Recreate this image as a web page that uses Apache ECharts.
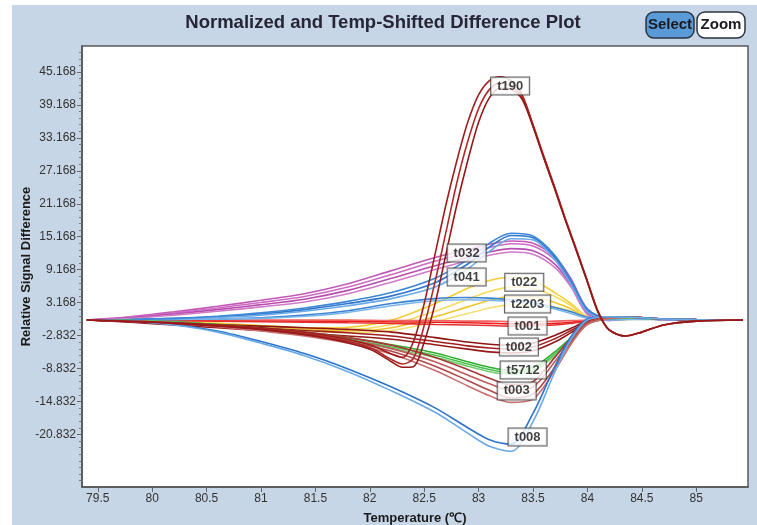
<!DOCTYPE html>
<html><head><meta charset="utf-8">
<script src="https://cdn.jsdelivr.net/npm/echarts@6/dist/echarts.min.js"></script>
<style>
html,body{margin:0;padding:0;background:#fff;}
#panel{position:absolute;left:12px;top:5px;width:745px;height:520px;background:#c6d6e6;}
#chart{position:absolute;left:0;top:0;width:757px;height:525px;}
</style></head><body>
<div id="panel"></div><div id="chart"></div>
<script>
// ---- axis ticks ----
const xTicks = [79.5, 80, 80.5, 81, 81.5, 82, 82.5, 83, 83.5, 84, 84.5, 85];
const yTicks = [-20.832, -14.832, -8.832, -2.832, 3.168, 9.168, 15.168, 21.168, 27.168, 33.168, 39.168, 45.168];

// ---- temperature grids ----
const tGrid = [79.4, 79.8, 80.2, 80.6, 81.0, 81.4, 81.8, 82.2, 82.6, 82.9, 83.1, 83.3, 83.5, 83.7, 83.85, 84.0, 84.2, 84.4, 84.7, 85.0, 85.43];
const tGridFine = [79.4, 80.2, 81.0, 81.6, 82.0, 82.2, 82.3, 82.4, 82.5, 82.6, 82.7, 82.8, 82.9, 83.0, 83.1, 83.2, 83.3, 83.4, 83.5, 83.6, 83.7, 83.8, 83.9, 84.0, 84.1, 84.2, 84.35, 84.5, 84.7, 85.0, 85.43];

// ---- t032 (magenta) ----
const t032a = [0, 0.6, 1.5, 2.5, 3.6, 4.8, 6.6, 9.0, 11.4, 12.8, 13.8, 14.4, 14.0, 11.5, 7.5, 2.0, 0.2, 0.3, 0.1, 0, 0];
const t032b = [0, 0.5, 1.3, 2.2, 3.2, 4.3, 6.0, 8.3, 10.7, 12.2, 13.2, 13.9, 13.5, 11.0, 7.0, 1.6, 0.1, 0.3, 0.1, 0, 0];
const t032c = [0, 0.4, 1.1, 1.9, 2.8, 3.8, 5.4, 7.6, 9.9, 11.4, 12.4, 13.0, 12.6, 10.2, 6.4, 1.3, 0, 0.2, 0.1, 0, 0];
const t032d = [0, 0.3, 0.9, 1.6, 2.4, 3.3, 4.8, 6.9, 9.2, 10.8, 11.8, 12.4, 12.0, 9.6, 6.0, 1.0, -0.1, 0.2, 0.1, 0, 0];
// ---- t041 (blue, upper) ----
const t041a = [0, 0.1, 0.3, 0.6, 1.1, 1.9, 3.0, 4.4, 6.8, 10.2, 13.3, 15.4, 15.0, 11.5, 7.0, 1.8, 0.3, 0.4, 0.2, 0.1, 0];
const t041b = [0, 0.1, 0.2, 0.5, 0.9, 1.6, 2.6, 3.9, 6.0, 9.3, 12.5, 14.8, 14.6, 11.0, 6.5, 1.5, 0.2, 0.4, 0.2, 0.1, 0];
const t041c = [0, 0.1, 0.3, 0.7, 1.3, 2.2, 3.4, 5.0, 7.6, 11.0, 14.0, 15.8, 15.3, 11.8, 7.2, 2.0, 0.3, 0.5, 0.2, 0.1, 0];
// ---- t2203 (blue, flat) ----
const t2203a = [0, 0, 0.1, 0.2, 0.4, 0.9, 1.7, 3.0, 3.9, 4.1, 4.0, 3.7, 3.2, 2.3, 1.5, 0.5, 0.1, 0.2, 0.1, 0, 0];
const t2203b = [0, 0, 0.1, 0.2, 0.3, 0.7, 1.4, 2.6, 3.5, 3.7, 3.6, 3.4, 2.9, 2.0, 1.2, 0.3, 0, 0.1, 0.1, 0, 0];
// ---- t022 (yellow) ----
const t022a = [0, -0.1, -0.3, -0.6, -1.0, -1.4, -1.3, 0.0, 3.0, 5.8, 7.2, 7.8, 7.2, 5.0, 3.0, 0.6, 0, 0.2, 0.1, 0, 0];
const t022b = [0, -0.1, -0.3, -0.6, -1.1, -1.6, -1.7, -0.8, 1.6, 3.8, 5.2, 6.0, 5.8, 4.3, 2.6, 0.5, 0, 0.2, 0.1, 0, 0];
const t022c = [0, -0.1, -0.4, -0.7, -1.2, -1.7, -2.0, -1.4, 0.6, 2.4, 3.6, 4.3, 4.2, 3.2, 2.0, 0.4, 0, 0.2, 0.1, 0, 0];
const t022d = [0, -0.1, -0.4, -0.8, -1.3, -1.9, -2.3, -1.9, -0.3, 1.2, 2.2, 2.8, 2.9, 2.4, 1.6, 0.3, 0, 0.1, 0.1, 0, 0];
// ---- t001 (red) ----
const t001a = [0, 0, 0, -0.1, -0.1, -0.2, -0.2, -0.3, -0.4, -0.5, -0.6, -0.7, -0.7, -0.6, -0.4, -0.1, 0.2, 0.3, 0.2, 0.1, 0];
const t001b = [0, 0, 0, 0, 0, 0, 0, -0.1, -0.1, -0.2, -0.2, -0.3, -0.3, -0.2, -0.1, 0, 0.3, 0.4, 0.2, 0.1, 0];
const t001c = [0, 0, -0.1, -0.2, -0.3, -0.4, -0.5, -0.6, -0.8, -0.9, -1.0, -1.1, -1.0, -0.9, -0.6, -0.2, 0.2, 0.3, 0.2, 0.1, 0];
// ---- t002 (dark red) ----
const t002a = [0, -0.2, -0.5, -0.8, -1.1, -1.4, -1.7, -2.2, -3.2, -4.0, -4.4, -4.6, -4.2, -2.8, -1.5, -0.2, 0.4, 0.5, 0.2, 0.1, 0];
const t002b = [0, -0.3, -0.7, -1.1, -1.5, -1.9, -2.3, -2.9, -3.9, -4.7, -5.1, -5.3, -4.9, -3.4, -1.9, -0.4, 0.4, 0.5, 0.2, 0.1, 0];
const t002c = [0, -0.4, -0.9, -1.4, -1.9, -2.4, -2.9, -3.5, -4.5, -5.3, -5.8, -6.0, -5.6, -4.0, -2.3, -0.6, 0.3, 0.5, 0.2, 0.1, 0];
// ---- t5712 (green) ----
const t5712a = [0, -0.1, -0.3, -0.8, -1.4, -2.2, -3.2, -4.5, -6.0, -7.6, -8.6, -9.2, -8.6, -5.8, -3.2, -0.5, 0.4, 0.4, 0.2, 0.1, 0];
const t5712b = [0, -0.1, -0.4, -0.9, -1.6, -2.5, -3.5, -4.9, -6.4, -8.0, -9.0, -9.6, -9.0, -6.2, -3.5, -0.7, 0.3, 0.4, 0.2, 0.1, 0];
const t5712c = [0, -0.1, -0.4, -1.0, -1.7, -2.6, -3.7, -5.2, -6.8, -8.4, -9.4, -9.9, -9.3, -6.5, -3.7, -0.8, 0.3, 0.4, 0.2, 0.1, 0];
// ---- t003 (rosy brown) ----
const t003a = [0, -0.2, -0.5, -0.9, -1.5, -2.2, -3.2, -4.6, -6.8, -9.0, -10.6, -11.8, -11.2, -6.8, -3.2, -0.4, 0.5, 0.5, 0.2, 0.1, 0];
const t003b = [0, -0.2, -0.5, -1.0, -1.7, -2.5, -3.6, -5.2, -7.6, -10.0, -11.6, -12.8, -12.2, -7.6, -3.6, -0.6, 0.4, 0.5, 0.2, 0.1, 0];
const t003c = [0, -0.2, -0.6, -1.1, -1.8, -2.7, -3.9, -5.7, -8.4, -11.0, -12.8, -14.2, -13.5, -8.6, -4.0, -0.7, 0.4, 0.5, 0.2, 0.1, 0];
const t003d = [0, -0.2, -0.6, -1.2, -2.0, -2.9, -4.2, -6.2, -9.2, -12.0, -13.8, -15.0, -14.4, -9.2, -4.4, -0.8, 0.3, 0.5, 0.2, 0.1, 0];
// ---- t008 (blue, lower) ----
const t008a = [0, -0.2, -0.8, -2.0, -3.9, -6.1, -8.9, -12.2, -16.0, -19.6, -21.8, -22.6, -17.0, -8.5, -3.0, 0.2, 0.6, 0.5, 0.2, 0.1, 0];
const t008b = [0, -0.2, -0.9, -2.2, -4.2, -6.5, -9.4, -12.9, -16.8, -20.6, -23.0, -23.9, -18.5, -9.5, -3.5, 0, 0.6, 0.5, 0.2, 0.1, 0];
// ---- t190 (dark red peak, fine grid) ----
const t190a = [0, -0.5, -1.4, -2.8, -4.5, -6.2, -6.8, -4.0, 3.0, 12, 21, 29, 36, 41, 43.6, 44.3, 43.5, 41, 35.6, 29.8, 24.2, 18.3, 12.8, 7.1, 1.5, -1.8, -2.9, -2.2, -0.9, -0.2, 0];
const t190b = [0, -0.6, -1.6, -3.1, -5.0, -7.2, -8.0, -7.0, -1.0, 7, 16, 25, 32.5, 38.5, 42, 43.2, 42.6, 40.6, 35.4, 29.6, 24, 18.2, 12.7, 7.0, 1.4, -1.8, -2.9, -2.2, -0.9, -0.2, 0];
const t190c = [0, -0.6, -1.7, -3.3, -5.3, -7.6, -8.6, -8.5, -4.0, 3, 12, 21, 29, 36, 40.5, 42.2, 42.0, 40.2, 35.2, 29.4, 23.8, 18.0, 12.5, 6.9, 1.3, -1.8, -2.9, -2.2, -0.9, -0.2, 0];

// ---- curve labels ----
const labelNames = ['t190', 't032', 't041', 't022', 't2203', 't001', 't002', 't5712', 't003', 't008'];
const labelT = [83.29, 82.89, 82.89, 83.42, 83.45, 83.45, 83.37, 83.41, 83.35, 83.45];
const labelV = [42.6, 12.2, 7.85, 6.9, 2.9, -1.1, -4.9, -9.1, -12.9, -21.3];

// ---- build options ----
const families = [
  {grid: tGrid, curves: [t022a, t022b, t022c, t022d], colors: ['#f2cf35', '#f7db5a', '#efc52c', '#f6e070']},
  {grid: tGrid, curves: [t001a, t001b, t001c], colors: ['#ee1c1c', '#f06262', '#e63030']},
  {grid: tGrid, curves: [t032a, t032b, t032c, t032d], colors: ['#c45ab8', '#cc6cc2', '#b84fae', '#d07ac8']},
  {grid: tGrid, curves: [t2203a, t2203b], colors: ['#3a82d2', '#7ab6ea']},
  {grid: tGrid, curves: [t041a, t041b, t041c], colors: ['#2f78cc', '#6aaae6', '#3d86d6']},
  {grid: tGrid, curves: [t002a, t002b, t002c], colors: ['#8e1414', '#a02020', '#961a1a']},
  {grid: tGrid, curves: [t5712a, t5712b, t5712c], colors: ['#2fae2f', '#4cc04c', '#72cc72']},
  {grid: tGrid, curves: [t003a, t003b, t003c, t003d], colors: ['#a83838', '#c05a5a', '#b04848', '#c87070']},
  {grid: tGrid, curves: [t008a, t008b], colors: ['#2e74c8', '#6aaae6']},
  {grid: tGridFine, curves: [t190a, t190b, t190c], colors: ['#a01e1e', '#b02a2a', '#961818']}
];

const series = [];
families.forEach(f => {
  f.curves.forEach((c, i) => {
    series.push({
      type: 'line', smooth: 0.3, symbol: 'none', silent: true,
      lineStyle: {color: f.colors[i % f.colors.length], width: 1.6},
      data: f.grid.map((t, k) => [t, c[k]]), z: 2
    });
  });
});
series.push({
  type: 'scatter', symbolSize: 1, itemStyle: {color: 'rgba(0,0,0,0)'}, z: 10, silent: true,
  data: labelNames.map((n, i) => ({name: n, value: [labelT[i], labelV[i]]})),
  label: {
    show: true, position: 'inside', formatter: p => p.name,
    backgroundColor: '#fff', borderColor: '#333', borderWidth: 1,
    padding: [2, 6, 1, 6], color: '#111', fontWeight: 'bold', fontSize: 13,
    fontFamily: '"Liberation Sans", Arial, sans-serif', lineHeight: 14
  }
});

const yMinor = [];
for (let i = 0; i < yTicks.length - 1; i++) {
  const step = (yTicks[i + 1] - yTicks[i]) / 5;
  for (let k = 1; k < 5; k++) yMinor.push(yTicks[i] + k * step);
}
[1, 2, 3, 4, 5, 6, 7].forEach(k => yMinor.push(yTicks[0] - k * 1.2));
[1, 2, 3].forEach(k => yMinor.push(yTicks[yTicks.length - 1] + k * 1.2));

const chart = echarts.init(document.getElementById('chart'), null, {renderer: 'canvas'});
chart.setOption({
  animation: false,
  backgroundColor: 'transparent',
  grid: {left: 82, right: 9, top: 46, bottom: 38, outerBoundsMode: 'none', containLabel: false, show: true, backgroundColor: '#ffffff', borderColor: '#5a5a5a', borderWidth: 1.5},
  xAxis: {
    type: 'value', min: 79.355, max: 85.476,
    axisLine: {show: true, onZero: false, lineStyle: {color: '#555', width: 1.5}},
    axisTick: {show: true, length: 5, customValues: xTicks, lineStyle: {color: '#666'}},
    axisLabel: {customValues: xTicks, color: '#333', fontSize: 12, fontFamily: '"Liberation Sans", Arial, sans-serif', margin: 6},
    splitLine: {show: false},
    name: 'Temperature (℃)', nameLocation: 'middle', nameGap: 25, nameMoveOverlap: false,
    nameTextStyle: {fontWeight: 'bold', fontSize: 13, color: '#1a1a1a', fontFamily: '"Liberation Sans", Arial, sans-serif'}
  },
  yAxis: [{
    type: 'value', min: -30.4, max: 49.9,
    axisLine: {show: true, onZero: false, lineStyle: {color: '#555', width: 1.5}},
    axisTick: {show: true, length: 5, customValues: yTicks, lineStyle: {color: '#666'}},
    axisLabel: {customValues: yTicks, color: '#333', fontSize: 12, fontFamily: '"Liberation Sans", Arial, sans-serif', margin: 6, formatter: v => v.toFixed(3)},
    splitLine: {show: false},
    name: 'Relative Signal Difference', nameLocation: 'middle', nameGap: 49, nameMoveOverlap: false,
    nameTextStyle: {fontWeight: 'bold', fontSize: 13, color: '#1a1a1a', fontFamily: '"Liberation Sans", Arial, sans-serif'}
  }, {
    type: 'value', min: -30.4, max: 49.9, position: 'left',
    axisLine: {show: false},
    axisTick: {show: true, length: 3, customValues: yMinor, lineStyle: {color: '#777'}},
    axisLabel: {show: false}, splitLine: {show: false}
  }],
  graphic: [
    {type: 'text', x: 383, y: 23, style: {text: 'Normalized and Temp-Shifted Difference Plot', textAlign: 'center', textVerticalAlign: 'middle', font: 'bold 18.5px "Liberation Sans", Arial, sans-serif', fill: '#262636'}},
    {type: 'rect', shape: {x: 646, y: 12, width: 48, height: 26, r: 8}, style: {fill: '#5a9ad6', stroke: '#2a3440', lineWidth: 1.5}},
    {type: 'text', x: 670, y: 25, style: {text: 'Select', textAlign: 'center', textVerticalAlign: 'middle', font: 'bold 15px "Liberation Sans", Arial, sans-serif', fill: '#1a1a22'}},
    {type: 'rect', shape: {x: 697, y: 12, width: 48, height: 26, r: 8}, style: {fill: '#ffffff', stroke: '#2a3440', lineWidth: 1.5}},
    {type: 'text', x: 721, y: 25, style: {text: 'Zoom', textAlign: 'center', textVerticalAlign: 'middle', font: 'bold 15px "Liberation Sans", Arial, sans-serif', fill: '#1a1a22'}}
  ],
  series: series
});
</script>
</body></html>
